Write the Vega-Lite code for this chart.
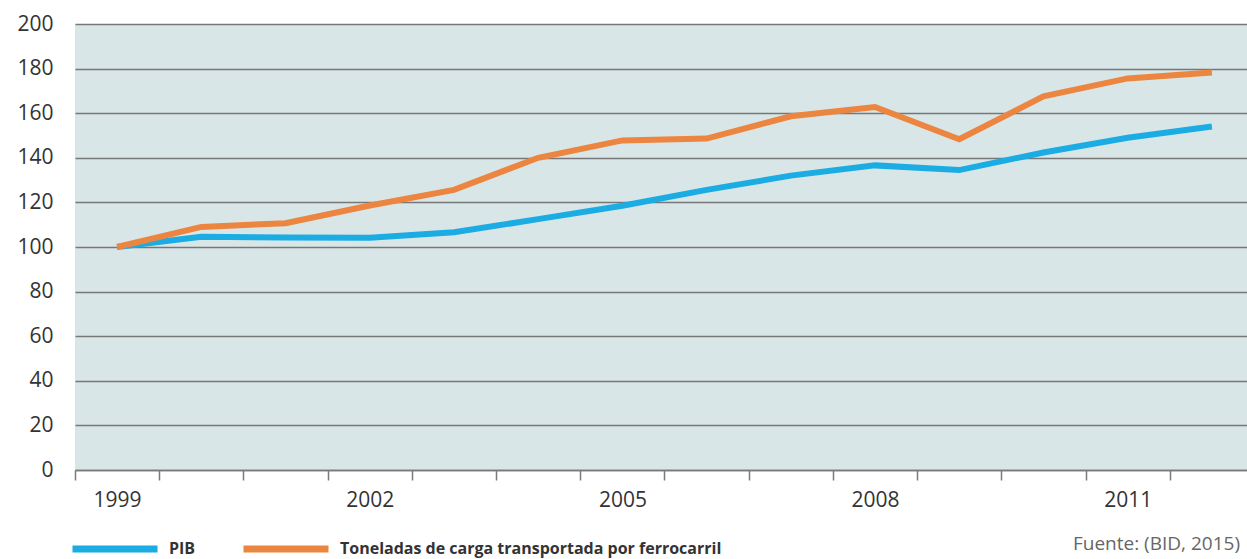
{
  "$schema": "https://vega.github.io/schema/vega-lite/v6.json",
  "autosize": {"type": "none"},
  "width": 1179,
  "height": 446,
  "padding": {"left": 75, "top": 24, "right": 0, "bottom": 89},
  "background": "#ffffff",
  "config": {
    "view": {"fill": "#D9E6E7", "stroke": null},
    "font": "Open Sans"
  },
  "title": {
    "text": "Fuente: (BID, 2015)",
    "orient": "bottom",
    "anchor": "end",
    "frame": "group",
    "fontSize": 19,
    "fontWeight": "normal",
    "color": "#666666",
    "font": "Open Sans",
    "offset": 10,
    "dy": -38,
    "dx": -14
  },
  "data": {
    "values": [
      {"year": "1999", "serie": "PIB", "value": 100},
      {"year": "2000", "serie": "PIB", "value": 104.6},
      {"year": "2001", "serie": "PIB", "value": 104.3},
      {"year": "2002", "serie": "PIB", "value": 104.2},
      {"year": "2003", "serie": "PIB", "value": 106.6},
      {"year": "2004", "serie": "PIB", "value": 112.5},
      {"year": "2005", "serie": "PIB", "value": 118.5},
      {"year": "2006", "serie": "PIB", "value": 125.6},
      {"year": "2007", "serie": "PIB", "value": 132},
      {"year": "2008", "serie": "PIB", "value": 136.6},
      {"year": "2009", "serie": "PIB", "value": 134.5},
      {"year": "2010", "serie": "PIB", "value": 142.4},
      {"year": "2011", "serie": "PIB", "value": 149},
      {"year": "2012", "serie": "PIB", "value": 154},
      {"year": "1999", "serie": "Toneladas de carga transportada por ferrocarril", "value": 100},
      {"year": "2000", "serie": "Toneladas de carga transportada por ferrocarril", "value": 109},
      {"year": "2001", "serie": "Toneladas de carga transportada por ferrocarril", "value": 110.7},
      {"year": "2002", "serie": "Toneladas de carga transportada por ferrocarril", "value": 118.6},
      {"year": "2003", "serie": "Toneladas de carga transportada por ferrocarril", "value": 125.6},
      {"year": "2004", "serie": "Toneladas de carga transportada por ferrocarril", "value": 140},
      {"year": "2005", "serie": "Toneladas de carga transportada por ferrocarril", "value": 147.8},
      {"year": "2006", "serie": "Toneladas de carga transportada por ferrocarril", "value": 148.6},
      {"year": "2007", "serie": "Toneladas de carga transportada por ferrocarril", "value": 158.6},
      {"year": "2008", "serie": "Toneladas de carga transportada por ferrocarril", "value": 162.8},
      {"year": "2009", "serie": "Toneladas de carga transportada por ferrocarril", "value": 148.3},
      {"year": "2010", "serie": "Toneladas de carga transportada por ferrocarril", "value": 167.6},
      {"year": "2011", "serie": "Toneladas de carga transportada por ferrocarril", "value": 175.6},
      {"year": "2012", "serie": "Toneladas de carga transportada por ferrocarril", "value": 178.2}
    ]
  },
  "mark": {"type": "line", "strokeWidth": 6, "strokeJoin": "miter", "strokeCap": "butt"},
  "encoding": {
    "x": {
      "field": "year",
      "type": "ordinal",
      "bandPosition": 0.5,
      "scale": {"type": "band", "paddingInner": 0, "paddingOuter": 0},
      "axis": {
        "title": null,
        "labelAngle": 0,
        "tickBand": "extent",
        "labelExpr": "indexof(['1999','2002','2005','2008','2011'], datum.label) >= 0 ? datum.label : ''",
        "labelFontSize": 21,
        "labelColor": "#333333",
        "labelPadding": 9,
        "tickSize": 10,
        "tickColor": "#7a7a7a",
        "tickWidth": 1.5,
        "domainColor": "#7a7a7a",
        "domainWidth": 1.5,
        "grid": false
      }
    },
    "y": {
      "field": "value",
      "type": "quantitative",
      "scale": {"domain": [0, 200], "nice": false},
      "axis": {
        "title": null,
        "values": [0, 20, 40, 60, 80, 100, 120, 140, 160, 180, 200],
        "domain": false,
        "ticks": false,
        "labelPadding": 22,
        "labelFontSize": 21,
        "labelColor": "#333333",
        "grid": true,
        "gridColor": "#777777",
        "gridWidth": 1.5
      }
    },
    "color": {
      "field": "serie",
      "type": "nominal",
      "scale": {
        "domain": ["PIB", "Toneladas de carga transportada por ferrocarril"],
        "range": ["#1AACE3", "#EC853F"]
      },
      "legend": {
        "title": null,
        "orient": "none",
        "direction": "horizontal",
        "legendX": -6,
        "legendY": 479,
        "symbolType": "stroke",
        "symbolSize": 7225,
        "symbolStrokeWidth": 7,
        "labelFontSize": 16,
        "labelFontWeight": "bold",
        "labelColor": "#333333",
        "labelOffset": 8,
        "columnPadding": 33,
        "labelLimit": 600
      }
    }
  }
}
